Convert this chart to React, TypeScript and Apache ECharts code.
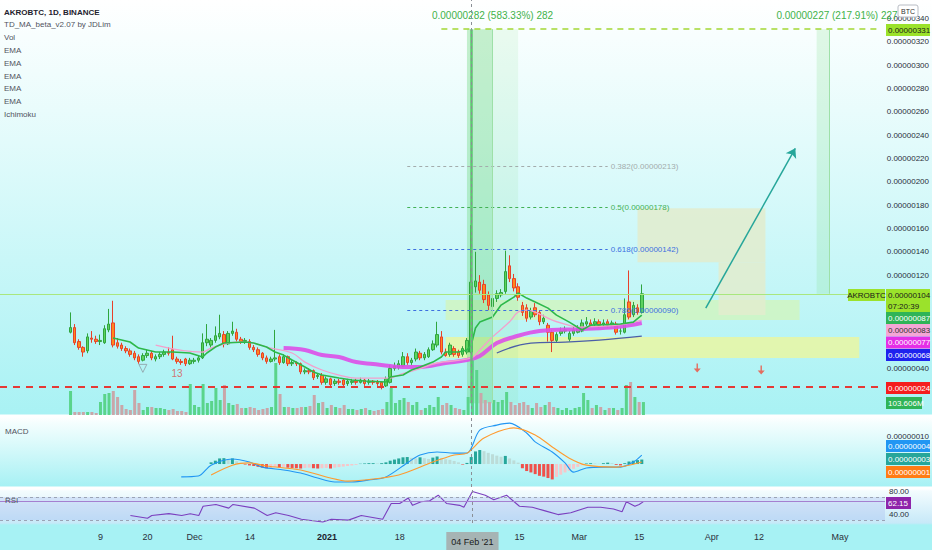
import React, { useEffect, useRef } from 'react';
import * as echarts from 'echarts';

// AKRO/BTC, 1D, Binance. Prices are in satoshi (1e-8 BTC), volume in millions.
const FIRST_DAY = '2020-10-17';
const LAST_DAY = '2021-05-11';
const CANDLE_START = '2020-11-02';
const HIST_START = '2020-12-05';
const MARK_DAY = '2021-02-04';

const dates: string[] = [];
for (let t = Date.parse(FIRST_DAY); t <= Date.parse(LAST_DAY); t += 864e5) {
  dates.push(new Date(t).toISOString().slice(0, 10));
}

const dateTicks: [string, string][] = [
  ['2020-11-09', '9'], ['2020-11-20', '20'], ['2020-12-01', 'Dec'], ['2020-12-14', '14'],
  ['2021-01-01', '2021'], ['2021-01-18', '18'], ['2021-02-04', "04 Feb '21"], ['2021-02-15', '15'],
  ['2021-03-01', 'Mar'], ['2021-03-15', '15'], ['2021-04-01', 'Apr'], ['2021-04-12', '12'], ['2021-05-01', 'May'],
];

// price scale labels that stay visible (the rest sit under the value tags)
const priceTicks = [40, 120, 140, 160, 180, 200, 220, 240, 260, 280, 300, 320, 340];

// [open, high, low, close], one per day from Nov 2
const candles: number[][] = [
  [71, 88, 70, 75], [75, 78, 60, 62], [63, 65, 56, 58], [58, 59, 50, 54], [55, 70, 53, 67],
  [66, 72, 62, 65], [65, 68, 61, 63], [63, 69, 60, 64], [62, 77, 61, 74], [73, 91, 71, 78],
  [79, 98, 58, 60], [62, 66, 57, 59], [60, 62, 55, 57], [57, 59, 53, 55], [55, 57, 50, 52],
  [53, 55, 47, 49], [50, 52, 44, 46], [47, 53, 46, 51], [51, 56, 49, 53], [53, 55, 47, 49],
  [48, 52, 46, 50], [50, 54, 48, 52], [52, 56, 50, 54], [54, 58, 51, 53], [56, 68, 47, 48],
  [48, 50, 44, 46], [46, 48, 43, 45], [48, 49, 42, 44], [44, 49, 43, 47], [46, 49, 44, 47],
  [47, 51, 45, 49], [49, 70, 48, 62], [62, 78, 59, 65], [60, 66, 58, 64], [64, 76, 62, 68],
  [67, 86, 65, 70], [69, 72, 58, 61], [61, 72, 60, 70], [70, 80, 68, 72], [71, 74, 63, 65],
  [65, 67, 61, 63], [63, 66, 61, 64], [63, 65, 56, 58], [58, 60, 54, 56], [56, 58, 50, 52],
  [53, 54, 47, 49], [49, 51, 44, 46], [46, 50, 45, 48], [48, 73, 46, 49], [50, 52, 43, 45],
  [45, 52, 44, 50], [50, 51, 42, 44], [44, 47, 42, 45], [45, 46, 42, 44], [44, 45, 35, 37],
  [37, 40, 35, 38], [38, 40, 35, 37], [38, 39, 30, 32], [33, 36, 31, 34], [34, 36, 26, 28],
  [28, 33, 26, 31], [31, 32, 24, 26], [27, 31, 25, 29], [29, 31, 26, 28], [30, 31, 24, 26],
  [27, 31, 25, 29], [28, 31, 26, 29], [29, 31, 26, 28], [28, 32, 27, 30], [30, 31, 25, 27],
  [28, 31, 26, 29], [29, 30, 26, 28], [28, 30, 25, 27], [28, 29, 22, 25], [25, 33, 24, 31],
  [28, 43, 27, 40], [40, 45, 38, 42], [41, 47, 39, 44], [42, 54, 41, 50], [50, 53, 43, 45],
  [45, 49, 43, 47], [48, 57, 46, 54], [53, 55, 47, 49], [49, 54, 47, 52], [50, 58, 49, 56],
  [56, 64, 55, 61], [60, 80, 58, 69], [67, 72, 52, 54], [54, 57, 50, 51], [52, 62, 50, 60],
  [57, 59, 50, 52], [54, 56, 49, 51], [52, 59, 50, 57], [54, 66, 52, 64], [54, 163, 53, 114],
  [110, 140, 105, 115], [114, 120, 104, 107], [112, 116, 96, 99], [103, 106, 90, 94], [93, 103, 90, 100],
  [100, 107, 97, 104], [103, 108, 101, 105], [106, 141, 104, 123], [128, 137, 114, 117], [117, 121, 106, 109],
  [110, 113, 98, 101], [94, 97, 85, 88], [92, 95, 80, 83], [84, 92, 82, 89], [92, 96, 84, 86],
  [88, 90, 77, 80], [80, 86, 78, 83], [77, 79, 63, 71], [71, 73, 54, 64], [64, 71, 62, 69],
  [70, 75, 68, 72], [72, 76, 70, 73], [65, 72, 63, 70], [70, 76, 68, 73], [71, 77, 70, 74],
  [72, 82, 71, 79], [78, 84, 76, 80], [79, 82, 75, 77], [78, 83, 76, 80], [80, 82, 75, 77],
  [78, 82, 76, 79], [80, 82, 75, 77], [78, 81, 76, 79], [78, 80, 69, 71], [72, 75, 69, 72],
  [71, 100, 70, 86], [97, 124, 82, 84], [86, 97, 84, 94], [92, 95, 86, 88], [88, 112, 87, 104],
];

const volumes = [
  192, 24, 24, 24, 24, 24, 16, 104, 168, 176, 192, 144, 80, 48, 40, 200, 96, 40, 64, 64,
  56, 56, 48, 40, 48, 32, 32, 24, 248, 80, 64, 248, 96, 112, 216, 120, 240, 96, 80, 88,
  56, 56, 64, 56, 40, 48, 56, 64, 416, 168, 64, 64, 56, 56, 64, 64, 72, 160, 96, 104,
  56, 80, 64, 56, 80, 48, 48, 40, 48, 56, 40, 32, 40, 48, 104, 216, 96, 120, 136, 104,
  80, 104, 40, 56, 80, 64, 144, 80, 96, 80, 56, 48, 40, 144, 520, 360, 176, 120, 104, 120,
  104, 120, 184, 104, 80, 96, 104, 80, 56, 96, 64, 80, 104, 64, 56, 40, 56, 40, 56, 64,
  176, 120, 56, 80, 64, 40, 56, 56, 40, 56, 240, 264, 144, 104, 103.606,
];

// MACD histogram, daily from Dec 5
const macdHist = [
  0.6, 1.2, 2.0, 2.1, 1.5, 2.0, 1.0, 0.4, -0.2, -0.5, -0.7, -1.0, -1.3, -1.5, -1.4,
  -1.1, -1.2, -1.0, -1.3, -1.4, -1.5, -1.6, -1.4, -1.3, -1.5, -1.6, -1.5, -1.4, -1.6, -1.3,
  -1.1, -0.9, -0.7, -0.5, -0.3, 0.1, 0.2, 0.3, 0.3, 0.2, 0.3, 0.6, 1.2, 1.6, 2.0,
  2.4, 2.5, 2.2, 2.0, 2.4, 2.1, 1.8, 2.3, 2.7, 2.2, 1.7, 1.5, 1.1, 0.6, -0.2,
  0.4, 2.5, 4.5, 5.0, 4.6, 4.0, 3.5, 3.0, 2.6, 2.9, 2.0, 1.3, 0.5, -1.5, -2.5,
  -3.0, -3.6, -4.2, -4.5, -5.0, -5.5, -4.6, -3.8, -3.0, -2.4, -1.7, -1.0, -0.4, 0.2, 0.3,
  0.2, 0.1, 0.3, 0.5, 0.3, -0.3, -0.5, 0.3, 0.9, 1.2, 1.4, 1.6,
];

// [day index from Oct 17, value]
const tdLine = [
  [26, 66], [30, 62.6], [32, 57.4], [36, 54], [40, 54], [44, 53.2], [47, 49.7], [48, 53.2], [50, 58.3],
  [52, 61.7], [57, 62.6], [59, 61.7], [62, 58.3], [64, 54], [66, 51.4], [68, 47.2], [71, 41.2], [73, 36.9],
  [75, 34.3], [79, 31.7], [82, 30], [85, 29.2], [90, 28.3], [91, 32.6], [94, 34.3], [96, 38.6], [98, 41.2],
  [101, 45.4], [103, 49.7], [104, 54], [107, 54], [109, 55.7], [110, 60], [111, 74.6], [112, 79.7], [115, 84],
  [117, 94.3], [120, 101.1], [121, 104.6], [123, 100.3], [125, 96.9], [128, 91.7], [130, 85.7], [133, 79.7],
  [136, 72.9], [138, 77.1], [145, 78], [148, 79.7], [150, 85.7],
];
const ema20 = [
  [36, 60], [47, 54], [49, 57.4], [55, 62.6], [57, 62.6], [63, 57.4], [68, 53.2], [71, 45.4], [75, 38.6],
  [79, 34.3], [83, 31.7], [87, 31.7], [91, 31.7], [93, 34.3], [97, 38.6], [102, 44.6], [110, 48.9], [112, 55.7],
  [115, 67], [119, 80], [121, 88.3], [123, 90], [125, 88.3], [129, 81.4], [132, 78], [135, 75.4], [140, 76],
  [146, 78], [150, 81.4],
];
const ema50 = [
  [66, 57.4], [71, 55.7], [75, 51.4], [79, 49.7], [83, 45.4], [87, 43.7], [91, 42], [94, 41.2], [98, 41.2],
  [104, 44.6], [109, 47.2], [112, 50.6], [116, 61.7], [120, 66.9], [126, 72], [136, 73.7], [144, 75.4], [150, 78.9],
];
const ema100 = [[116, 53.2], [124, 61.7], [132, 62.6], [140, 64.3], [150, 67.7]];

const macdLine = [
  [42, -4.6], [46, -4.3], [49, -0.4], [54, 1.8], [58, 0.7], [61, -1.1], [66, -2.1], [70, -3.2], [74, -5.0],
  [78, -6.4], [82, -6.4], [86, -5.7], [90, -4.6], [95, 0.4], [98, 3.2], [102, 4.3], [106, 3.9], [109, 3.9],
  [112, 12.1], [116, 13.9], [119, 14.6], [123, 11.1], [125, 7.9], [129, 4.3], [132, 0.4], [134, -2.9],
  [137, -1.4], [141, -1.1], [145, -1.1], [148, 0.7], [150, 3.2],
];
const signalLine = [
  [49, -3.9], [54, -0.4], [58, 0.4], [62, -0.7], [70, -2.1], [77, -5.0], [81, -6.1], [85, -5.7], [93, -3.9],
  [101, 0.7], [106, 3.2], [109, 3.9], [113, 9.3], [120, 12.9], [125, 10.4], [129, 6.1], [133, 2.1],
  [137, -0.4], [144, -1.1], [150, 0.7],
];
const rsiLine = [
  [30, 38], [34, 33.2], [35, 38], [39, 41.2], [42, 38], [44, 41.2], [46, 38], [47, 54], [50, 57.2], [53, 50.8],
  [54, 57.2], [59, 50.8], [62, 38], [64, 42.8], [67, 38], [70, 31.6], [75, 26.8], [77, 31.6], [81, 30], [84, 38],
  [89, 31.6], [91, 58.8], [93, 58.8], [95, 68.4], [96, 55.6], [98, 62], [100, 63.6], [102, 73.2], [104, 58.8],
  [107, 55.6], [108, 52.4], [110, 79.6], [113, 73.2], [115, 65.2], [118, 73.2], [121, 54], [124, 52.4],
  [127, 46], [130, 39.6], [133, 42.8], [137, 52.4], [140, 52.4], [143, 49.2], [145, 44.4], [146, 62],
  [148, 54], [149, 57.2], [150, 62.15],
];

// fibonacci retracement: [ratio, price]
const fibLevels: [string, number][] = [['0.382', 213], ['0.5', 178], ['0.618', 142], ['0.786', 90]];
const fibColors = ['#a3acac', '#43b155', '#3d6fe0', '#3d6fe0'];

const legendLines = ['AKROBTC, 1D, BINANCE', 'TD_MA_beta_v2.07 by JDLim', 'Vol', 'EMA', 'EMA', 'EMA', 'EMA', 'EMA', 'Ichimoku'];

const FONT = '"Liberation Sans", Arial, sans-serif';
const sat = (v: number) => (v / 1e8).toFixed(8);
const pts = (list: number[][]) => list.map(([i, v]) => [dates[i], v]);

const tags = [
  { y: 30, text: '0.00000331', bg: '#9be22b', fg: '#1a1a1a' },
  { y: 295, text: '0.00000104', bg: '#9be22b', fg: '#1a1a1a' },
  { y: 306.5, text: '07:20:39', bg: '#9be22b', fg: '#1a1a1a' },
  { y: 318, text: '0.00000087', bg: '#2fb457', fg: '#ffffff' },
  { y: 330, text: '0.00000083', bg: '#f5a6d6', fg: '#333333' },
  { y: 342.5, text: '0.00000077', bg: '#e52ee6', fg: '#ffffff' },
  { y: 355, text: '0.00000068', bg: '#1e22ee', fg: '#ffffff' },
  { y: 388, text: '0.00000024', bg: '#f51d1d', fg: '#ffffff' },
  { y: 403, text: '103.606M', bg: '#2fb457', fg: '#ffffff', w: 36 },
  { y: 446, text: '0.00000004', bg: '#2196f3', fg: '#ffffff' },
  { y: 459, text: '0.00000003', bg: '#26a69a', fg: '#ffffff' },
  { y: 472, text: '0.00000001', bg: '#ff7c14', fg: '#ffffff' },
  { y: 503, text: '62.15', bg: '#8e24aa', fg: '#ffffff', w: 25 },
];

const App: React.FC = () => {
  const chartRef = useRef<HTMLDivElement>(null);

  useEffect(() => {
    document.body.style.margin = '0';
    if (!chartRef.current) return;
    const chart = echarts.init(chartRef.current, null, { renderer: 'svg' });

    const cOff = dates.indexOf(CANDLE_START);
    const hOff = dates.indexOf(HIST_START);
    const tickMap: Record<string, string> = {};
    dateTicks.forEach(([d, l]) => (tickMap[d] = l));

    const candleData = dates.map((_, i) => {
      const c = candles[i - cOff];
      return c ? [c[0], c[3], c[2], c[1]] : ['-', '-', '-', '-'];
    });
    const volData = dates.map((_, i) => {
      const k = i - cOff;
      if (k < 0 || k >= volumes.length) return '-';
      const c = candles[k];
      return { value: volumes[k], itemStyle: { color: c[3] >= c[0] ? '#5ad48b' : '#c9a6a9' } };
    });
    const histData = dates.map((_, i) => {
      const k = i - hOff;
      if (k < 0 || k >= macdHist.length) return '-';
      const v = macdHist[k];
      const prev = k > 0 ? macdHist[k - 1] : 0;
      const color = v >= 0 ? (v >= prev ? '#26a69a' : '#bcdcd8') : (v < prev ? '#f0504a' : '#f7c6c9');
      return { value: v, itemStyle: { color } };
    });

    const xAxis = [0, 1, 2, 3].map((g) => ({
      type: 'category',
      gridIndex: g,
      data: dates,
      boundaryGap: true,
      axisLine: { show: false },
      axisTick: { show: false },
      splitLine: { show: false },
      axisLabel: g === 3
        ? {
            show: true,
            interval: (_: number, v: string) => v in tickMap,
            formatter: (v: string) => {
              if (v === '2021-01-01') return '{b|2021}';
              if (v === MARK_DAY) return `{cur|${tickMap[v]}}`;
              return tickMap[v] || '';
            },
            color: '#2b2f3a',
            fontSize: 9,
            fontFamily: FONT,
            margin: 9,
            rich: {
              b: { fontWeight: 'bold', fontSize: 9, fontFamily: FONT, color: '#1e222d' },
              cur: { backgroundColor: '#a6b4b4', color: '#1a1a1a', fontSize: 9, fontFamily: FONT, padding: [5, 5, 4, 5] },
            },
          }
        : { show: false },
    }));

    const axisLabelBase = { fontSize: 8, fontFamily: FONT, color: '#2b2f3a', margin: 4 };
    const yAxis = [
      {
        type: 'value', gridIndex: 0, position: 'right', min: 0, max: 356, interval: 20,
        splitLine: { show: false }, axisLine: { show: false }, axisTick: { show: false },
        axisLabel: { ...axisLabelBase, formatter: (v: number) => (priceTicks.includes(v) ? sat(v) : '') },
      },
      { type: 'value', gridIndex: 1, min: 0, max: 440, show: false },
      {
        type: 'value', gridIndex: 2, position: 'right', min: -8.2, max: 16.8,
        splitLine: { show: false }, axisLine: { show: false }, axisTick: { show: false },
        axisLabel: { ...axisLabelBase, customValues: [10], formatter: (v: number) => sat(v) },
      },
      {
        type: 'value', gridIndex: 3, position: 'right', min: 25, max: 84,
        splitLine: { show: false }, axisLine: { show: false }, axisTick: { show: false },
        axisLabel: { ...axisLabelBase, customValues: [40, 80], formatter: (v: number) => v.toFixed(2) },
      },
    ];

    const crosshair = { xAxis: MARK_DAY, lineStyle: { color: '#8a8f96', type: [3, 3], width: 1 } };
    const measureLabel = (text: string, dx: number) => ({
      show: true, position: 'top', distance: 9, offset: [dx, 0], formatter: text, color: '#3fb24a', fontSize: 10, fontFamily: FONT,
    });

    const zones = [
      [{ xAxis: dates[104], yAxis: 49, itemStyle: { color: 'rgba(236,246,158,0.8)' } }, { xAxis: dates[201], yAxis: 67 }],
      [{ xAxis: dates[104], yAxis: 81.4, itemStyle: { color: 'rgba(214,244,176,0.65)' } }, { xAxis: dates[187], yAxis: 98.6 }],
      [{ xAxis: dates[149], yAxis: 131, itemStyle: { color: 'rgba(226,236,206,0.85)' } }, { xAxis: dates[179], yAxis: 177.4 }],
      [{ xAxis: dates[168], yAxis: 85.7, itemStyle: { color: 'rgba(226,236,206,0.85)' } }, { xAxis: dates[179], yAxis: 131 }],
      [{ xAxis: dates[109], yAxis: 10, itemStyle: { color: 'rgba(140,228,150,0.14)' }, label: measureLabel('0.00000282 (583.33%) 282', 0) }, { xAxis: dates[121], yAxis: 331 }],
      [{ xAxis: dates[109], yAxis: 10, itemStyle: { color: 'rgba(100,212,118,0.28)' } }, { xAxis: dates[115], yAxis: 331 }],
      [{ xAxis: dates[191], yAxis: 104, itemStyle: { color: 'rgba(130,225,140,0.22)' }, label: measureLabel('0.00000227 (217.91%) 227', 14) }, { xAxis: dates[194], yAxis: 331 }],
    ];

    const drawings: any[] = [
      ...fibLevels.map(([ratio, price], k) => [
        {
          coord: [dates[95], price],
          lineStyle: { color: fibColors[k], type: [3, 3], width: 1 },
          label: { show: true, position: 'end', distance: 3, formatter: `${ratio}(${sat(price)})`, color: fibColors[k], fontSize: 8, fontFamily: FONT },
        },
        { coord: [dates[142], price] },
      ]),
      { yAxis: 24, lineStyle: { color: '#e53935', type: [7, 6], width: 2 } },
      { yAxis: 104, lineStyle: { color: '#a9e77e', type: 'solid', width: 1 } },
      [{ coord: [dates[103], 331], lineStyle: { color: '#a3d835', type: [6, 5], width: 1.5 } }, { coord: [dates[206], 331] }],
      [{ coord: [MARK_DAY, 10], lineStyle: { color: '#5ec970', type: 'solid', width: 2.5 } }, { coord: [MARK_DAY, 331] }],
      [{ coord: [dates[115], 10], lineStyle: { color: '#9ee0a8', type: 'solid', width: 1 } }, { coord: [dates[115], 331] }],
      [{ coord: [dates[194], 104], lineStyle: { color: '#9ee0a8', type: 'solid', width: 1 } }, { coord: [dates[194], 331] }],
      [
        { coord: [dates[165], 91.7], symbol: 'none', lineStyle: { color: '#26a69a', type: 'solid', width: 1.5 } },
        { coord: [dates[186], 228.8], symbol: 'arrow', symbolSize: 9 },
      ],
      crosshair,
    ];

    const lineBase = { type: 'line', xAxisIndex: 0, yAxisIndex: 0, showSymbol: false, symbol: 'none', z: 4 };

    const graphic: any[] = [];
    legendLines.forEach((t, k) => {
      graphic.push({
        type: 'text', x: 4, y: 12 + k * 12.8, z: 100,
        style: { text: t, fill: k === 0 ? '#1e222d' : '#50535e', font: `${k === 0 ? 'bold ' : ''}8px ${FONT}`, verticalAlign: 'middle' },
      });
    });
    graphic.push(
      { type: 'text', x: 5, y: 431, z: 100, style: { text: 'MACD', fill: '#50535e', font: `8px ${FONT}`, verticalAlign: 'middle' } },
      { type: 'text', x: 5, y: 500, z: 100, style: { text: 'RSI', fill: '#50535e', font: `8px ${FONT}`, verticalAlign: 'middle' } },
      { type: 'rect', z: 100, shape: { x: 848, y: 289, width: 37, height: 12 }, style: { fill: '#9be22b' } },
      { type: 'text', x: 866.5, y: 295, z: 101, style: { text: 'AKROBTC', fill: '#1a1a1a', font: `8px ${FONT}`, align: 'center', verticalAlign: 'middle' } },
    );
    tags.forEach((t) => {
      graphic.push(
        { type: 'rect', z: 100, shape: { x: 886, y: t.y - 6, width: t.w || 44, height: 12 }, style: { fill: t.bg } },
        { type: 'text', x: 888, y: t.y, z: 101, style: { text: t.text, fill: t.fg, font: `8px ${FONT}`, verticalAlign: 'middle' } },
      );
    });
    graphic.push(
      { type: 'rect', z: 102, shape: { x: 898, y: 5, width: 20, height: 12, r: 2 }, style: { fill: '#ffffff', stroke: '#b8bcc4', lineWidth: 1 } },
      { type: 'text', x: 908, y: 11, z: 103, style: { text: 'BTC', fill: '#333', font: `7px ${FONT}`, align: 'center', verticalAlign: 'middle' } },
    );

    const option: any = {
      animation: false,
      grid: [
        { left: 0, top: 0, width: 885, height: 415 },
        { left: 0, top: 360, width: 885, height: 55 },
        { left: 0, top: 417, width: 885, height: 70 },
        { left: 0, top: 489, width: 885, height: 36 },
      ],
      xAxis,
      yAxis,
      graphic,
      series: [
        {
          name: 'zones', type: 'line', xAxisIndex: 0, yAxisIndex: 0, data: [], z: 1, silent: true,
          markArea: { silent: true, data: zones },
        },
        {
          name: 'Vol', type: 'bar', xAxisIndex: 1, yAxisIndex: 1, data: volData, barWidth: 3, z: 2,
        },
        {
          name: 'AKROBTC', type: 'candlestick', xAxisIndex: 0, yAxisIndex: 0, data: candleData, barWidth: 3, z: 3,
          itemStyle: { color: '#5ed35e', color0: '#ff8a1c', borderColor: '#2fa53e', borderColor0: '#e8402a', borderWidth: 1 },
        },
        { ...lineBase, name: 'EMA 100', data: pts(ema100), smooth: 0.4, lineStyle: { color: '#4b5fa8', width: 1.3 } },
        { ...lineBase, name: 'EMA 50', data: pts(ema50), smooth: 0.4, lineStyle: { color: '#dd4fe8', width: 4, opacity: 0.9 } },
        { ...lineBase, name: 'EMA 20', data: pts(ema20), smooth: 0.4, lineStyle: { color: '#f3a0cc', width: 1.3 } },
        { ...lineBase, name: 'TD_MA', data: pts(tdLine), lineStyle: { color: '#2db84a', width: 1.6 } },
        {
          name: 'markers', type: 'scatter', xAxisIndex: 0, yAxisIndex: 0, z: 5, silent: true,
          data: [
            { value: [dates[163], 40.3], symbol: 'path://M4 0 L6 0 L6 6 L10 6 L5 11 L0 6 L4 6 Z', symbolSize: [7, 9], itemStyle: { color: '#f04b3a' } },
            { value: [dates[178], 38.6], symbol: 'path://M4 0 L6 0 L6 6 L10 6 L5 11 L0 6 L4 6 Z', symbolSize: [7, 9], itemStyle: { color: '#f04b3a' } },
            { value: [dates[33], 40], symbol: 'triangle', symbolRotate: 180, symbolSize: 8, itemStyle: { color: 'rgba(0,0,0,0)', borderColor: '#8d9aa1', borderWidth: 1 } },
            { value: [dates[41], 36], symbolSize: 0, label: { show: true, formatter: '13', color: '#d9534f', fontSize: 10, fontFamily: FONT, position: 'inside' } },
          ],
        },
        {
          name: 'drawings', type: 'line', xAxisIndex: 0, yAxisIndex: 0, data: [], z: 6, silent: true,
          markLine: { silent: true, symbol: 'none', label: { show: false }, data: drawings },
        },
        {
          name: 'Hist', type: 'bar', xAxisIndex: 2, yAxisIndex: 2, data: histData, barWidth: 3, z: 2,
        },
        {
          name: 'MACD', type: 'line', xAxisIndex: 2, yAxisIndex: 2, data: pts(macdLine), showSymbol: false, symbol: 'none',
          smooth: 0.3, lineStyle: { color: '#2196f3', width: 1.1 }, z: 3,
          markLine: { silent: true, symbol: 'none', label: { show: false }, data: [crosshair] },
        },
        {
          name: 'Signal', type: 'line', xAxisIndex: 2, yAxisIndex: 2, data: pts(signalLine), showSymbol: false, symbol: 'none',
          smooth: 0.3, lineStyle: { color: '#ff9a2e', width: 1.1 }, z: 3,
        },
        {
          name: 'RSI', type: 'line', xAxisIndex: 3, yAxisIndex: 3, data: pts(rsiLine), showSymbol: false, symbol: 'none',
          lineStyle: { color: '#7b3fbf', width: 1.1 }, z: 3,
          markArea: { silent: true, data: [[{ yAxis: 30, itemStyle: { color: 'rgba(160,180,240,0.3)' } }, { yAxis: 70 }]] },
          markLine: {
            silent: true, symbol: 'none', label: { show: false },
            data: [
              { yAxis: 70, lineStyle: { color: '#9aa3b5', type: [3, 3], width: 1 } },
              { yAxis: 30, lineStyle: { color: '#9aa3b5', type: [3, 3], width: 1 } },
              { yAxis: 62.15, lineStyle: { color: '#a57fd0', type: 'solid', width: 1 } },
              crosshair,
            ],
          },
        },
      ],
    };

    chart.setOption(option);
    return () => {
      chart.dispose();
    };
  }, []);

  return (
    <div
      ref={chartRef}
      style={{
        width: '932px',
        height: '550px',
        background:
          'linear-gradient(to bottom, #ffffff 0px, #e9fcfc 110px, #c9f7f8 260px, #a9f2f4 414px, #ffffff 415px, #ffffff 417px, #f4fefe 423px, #a7f1f4 486px, #ffffff 487px, #ffffff 489px, #f3fcfe 491px, #c7e9f8 523px, #a7f2f4 525px, #a7f2f4 550px)',
      }}
    />
  );
};

export default App;
